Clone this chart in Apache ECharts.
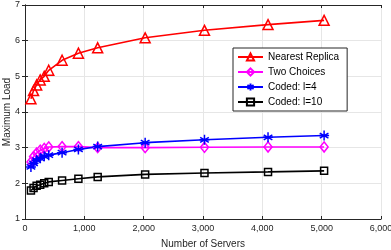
<!DOCTYPE html>
<html><head><meta charset="utf-8">
<script src="https://cdn.jsdelivr.net/npm/echarts@6/dist/echarts.min.js"></script>
<style>html,body{margin:0;padding:0;background:#fff}#c{width:391px;height:250px}</style>
</head><body><div id="c"></div>
<script>
var servers = [100, 144, 196, 256, 324, 400, 625, 900, 1225, 2025, 3025, 4096, 5041];
var nearestReplica = [4.37, 4.6, 4.76, 4.9, 5.0, 5.17, 5.45, 5.65, 5.8, 6.08, 6.29, 6.45, 6.57];
var twoChoices = [2.6, 2.75, 2.85, 2.93, 2.98, 3.02, 3.03, 3.03, 3.0, 3.0, 3.01, 3.02, 3.02];
var codedL4 = [2.46, 2.56, 2.65, 2.7, 2.76, 2.79, 2.86, 2.95, 3.03, 3.14, 3.22, 3.29, 3.34];
var codedL10 = [1.8, 1.87, 1.93, 1.96, 2.0, 2.04, 2.08, 2.13, 2.18, 2.25, 2.29, 2.32, 2.35];
var xTicks = [0, 1000, 2000, 3000, 4000, 5000, 6000];
var yTicks = [1, 2, 3, 4, 5, 6, 7];
var seriesNames = ['Nearest Replica', 'Two Choices', 'Coded: l=4', 'Coded: l=10'];

function pairs(v){ return servers.map(function(x,i){ return [x, v[i]]; }); }
var font = 'Liberation Sans, Arial, sans-serif';
var axisCol = '#262626';
var asterisk = 'path://M0,-10L0,10M-8.66,-5L8.66,5M-8.66,5L8.66,-5M-10,0L10,0';

function mk(name, data, color, symbol, size){
  return {
    name: name, type: 'line', data: pairs(data), symbol: symbol, symbolSize: size,
    showAllSymbol: true,
    lineStyle: {color: color, width: 1.6},
    itemStyle: {color: 'rgba(255,255,255,0)', borderColor: color, borderWidth: 1.5},
    emphasis: {disabled: true}, animation: false
  };
}

var chart = echarts.init(document.getElementById('c'), null, {renderer: 'canvas'});
chart.setOption({
  animation: false,
  grid: {left: 25, right: 10, top: 5, bottom: 31, containLabel: false, outerBoundsMode: 'none'},
  xAxis: [{
    type: 'value', min: xTicks[0], max: xTicks[xTicks.length-1], interval: 1000,
    name: 'Number of Servers', nameLocation: 'middle', nameGap: 20, nameMoveOverlap: false,
    nameTextStyle: {fontFamily: font, fontSize: 10, color: axisCol},
    axisLine: {show: true, lineStyle: {color: axisCol, width: 1}},
    axisTick: {show: true, inside: true, length: 3, lineStyle: {color: axisCol}},
    axisLabel: {fontFamily: font, fontSize: 9, color: axisCol, margin: 5},
    splitLine: {show: true, lineStyle: {color: '#e6e6e6', width: 1}}
  }, {
    type: 'value', position: 'top', min: 0, max: 6000, interval: 1000,
    axisLine: {show: true, lineStyle: {color: axisCol}},
    axisTick: {show: true, inside: true, length: 3, lineStyle: {color: axisCol}},
    axisLabel: {show: false}, splitLine: {show: false}
  }],
  yAxis: [{
    type: 'value', min: yTicks[0], max: yTicks[yTicks.length-1], interval: 1,
    name: 'Maximum Load', nameLocation: 'middle', nameGap: 13, nameMoveOverlap: false,
    nameTextStyle: {fontFamily: font, fontSize: 10, color: axisCol},
    axisLine: {show: true, lineStyle: {color: axisCol, width: 1}},
    axisTick: {show: true, inside: true, length: 3, lineStyle: {color: axisCol}},
    axisLabel: {fontFamily: font, fontSize: 9, color: axisCol, margin: 5},
    splitLine: {show: true, lineStyle: {color: '#e6e6e6', width: 1}}
  }, {
    type: 'value', position: 'right', min: 1, max: 7, interval: 1,
    axisLine: {show: true, lineStyle: {color: axisCol}},
    axisTick: {show: true, inside: true, length: 3, lineStyle: {color: axisCol}},
    axisLabel: {show: false}, splitLine: {show: false}
  }],
  legend: {
    data: seriesNames, orient: 'vertical', left: 233, top: 48,
    backgroundColor: '#fff', borderColor: axisCol, borderWidth: 1,
    padding: [4, 8, 4, 4], itemWidth: 25, itemHeight: 9, itemGap: 5,
    textStyle: {fontFamily: font, fontSize: 10, color: '#000'},
    selectedMode: false
  },
  series: [
    mk(seriesNames[0], nearestReplica, '#ff0000', 'triangle', 10),
    mk(seriesNames[1], twoChoices, '#ff00ff', 'diamond', [8, 10]),
    mk(seriesNames[2], codedL4, '#0000ff', asterisk, 10),
    mk(seriesNames[3], codedL10, '#000000', 'rect', 7)
  ]
});
</script></body></html>
